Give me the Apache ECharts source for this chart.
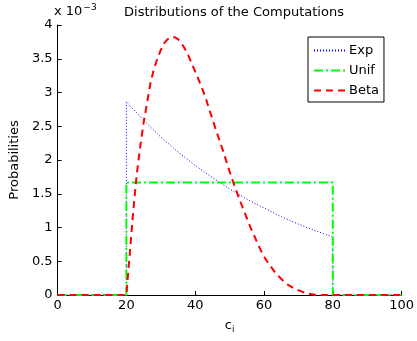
<!DOCTYPE html>
<html>
<head>
<meta charset="utf-8">
<script src="https://cdn.jsdelivr.net/npm/echarts@6/dist/echarts.min.js"></script>
<style>
  html, body { margin: 0; padding: 0; background: #fff; }
  #chart { width: 417px; height: 341px; }
</style>
</head>
<body>
<div id="chart"></div>
<script>
// values on the y axis are in units of 10^-3
const xTicks = [0, 20, 40, 60, 80, 100];
const yTicks = [0, 0.5, 1, 1.5, 2, 2.5, 3, 3.5, 4];

const expX = [0, 20, 20, 25, 30, 35, 40, 45, 50, 55, 60, 65, 70, 75, 80, 80, 100];
const expY = [0, 0, 2.86, 2.59, 2.34, 2.12, 1.92, 1.74, 1.57, 1.42, 1.29, 1.16, 1.05, 0.95, 0.86, 0, 0];

const unifX = [0, 20, 20, 80, 80, 100];
const unifY = [0, 0, 1.667, 1.667, 0, 0];

const betaX = [0, 20, 21, 22, 23, 24, 25, 26, 27, 28, 29, 30, 31, 32, 33, 34, 35, 36, 37, 38, 39,
  40, 41, 42, 43, 44, 45, 46, 47, 48, 49, 50, 51, 52, 53, 54, 55, 56, 57, 58, 59,
  60, 61, 62, 63, 64, 65, 66, 67, 68, 69, 70, 71, 72, 73, 74, 75, 80, 100];
const betaY = [0, 0, 0.62, 1.25, 1.78, 2.19, 2.55, 2.84, 3.14, 3.35, 3.50, 3.63, 3.73, 3.79, 3.82, 3.82, 3.79, 3.73, 3.65, 3.55, 3.43,
  3.31, 3.19, 3.06, 2.93, 2.76, 2.61, 2.45, 2.30, 2.15, 1.99, 1.83, 1.68, 1.54, 1.40, 1.27, 1.14, 1.01, 0.90, 0.78, 0.67,
  0.57, 0.49, 0.42, 0.35, 0.29, 0.24, 0.19, 0.15, 0.12, 0.09, 0.07, 0.05, 0.03, 0.02, 0.01, 0, 0, 0];

const zip = (xs, ys) => xs.map((x, i) => [x, ys[i]]);

const font = 'DejaVu Sans, Liberation Sans, Arial, sans-serif';

const chart = echarts.init(document.getElementById('chart'));

const option = {
  animation: false,
  backgroundColor: '#fff',
  title: {
    text: 'Distributions of the Computations',
    left: 229,
    textAlign: 'center',
    top: 1,
    textStyle: { fontFamily: font, fontSize: 13, fontWeight: 'normal', color: '#000' }
  },
  graphic: [{
    type: 'text',
    left: 54,
    top: 3,
    style: {
      text: 'x 10{sup|−3}',
      fontFamily: font,
      fontSize: 13,
      fill: '#000',
      rich: {
        sup: { fontFamily: font, fontSize: 9, verticalAlign: 'top', padding: [0, 0, 8, 1] }
      }
    }
  }],
  legend: {
    orient: 'vertical',
    left: 308,
    top: 37,
    padding: [7, 5, 5, 5],
    itemGap: 7,
    itemWidth: 32,
    itemHeight: 14,
    borderColor: '#000',
    borderWidth: 1,
    backgroundColor: '#fff',
    itemStyle: { opacity: 0 },
    textStyle: { fontFamily: font, fontSize: 13, color: '#000', padding: [0, 0, 0, -2] },
    data: ['Exp', 'Unif', 'Beta']
  },
  grid: { left: 53, right: 12, top: 25, bottom: 46 },
  xAxis: {
    type: 'value',
    min: xTicks[0],
    max: xTicks[xTicks.length - 1],
    interval: 20,
    name: 'c{sub|i}',
    nameLocation: 'middle',
    nameGap: 22,
    nameTextStyle: {
      fontFamily: font, fontSize: 13, color: '#000',
      rich: { sub: { fontFamily: font, fontSize: 9, verticalAlign: 'bottom', padding: [8, 0, 0, 0] } }
    },
    axisLine: { lineStyle: { color: '#000', width: 1 } },
    axisTick: { inside: true, length: 4, lineStyle: { color: '#000' } },
    axisLabel: { fontFamily: font, fontSize: 13, color: '#000', margin: 4 },
    splitLine: { show: false }
  },
  yAxis: {
    type: 'value',
    min: yTicks[0],
    max: yTicks[yTicks.length - 1],
    interval: 0.5,
    name: 'Probabilities',
    nameLocation: 'middle',
    nameGap: 36,
    nameTextStyle: { fontFamily: font, fontSize: 13, color: '#000' },
    axisLine: { show: true, lineStyle: { color: '#000', width: 1 } },
    axisTick: { show: true, inside: true, length: 4, lineStyle: { color: '#000' } },
    axisLabel: { fontFamily: font, fontSize: 13, color: '#000', margin: 5 },
    splitLine: { show: false }
  },
  series: [
    {
      name: 'Exp',
      type: 'line',
      symbol: 'none',
      data: zip(expX, expY),
      lineStyle: { color: '#0000ff', width: 1, type: [1, 2] },
      itemStyle: { color: '#0000ff' }
    },
    {
      name: 'Unif',
      type: 'line',
      symbol: 'none',
      data: zip(unifX, unifY),
      lineStyle: { color: '#00ff00', width: 2, type: [9, 3, 2, 3] },
      itemStyle: { color: '#00ff00' }
    },
    {
      name: 'Beta',
      type: 'line',
      symbol: 'none',
      data: zip(betaX, betaY),
      lineStyle: { color: '#ff0000', width: 2, type: [7, 5] },
      itemStyle: { color: '#ff0000' }
    }
  ]
};

chart.setOption(option);
</script>
</body>
</html>
